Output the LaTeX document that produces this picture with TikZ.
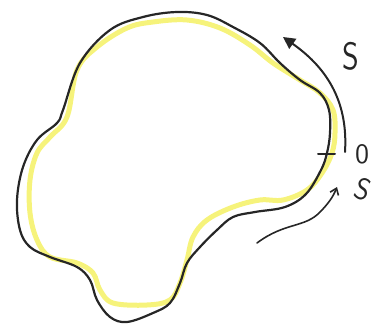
\documentclass[tikz,border=0pt]{standalone}
\usetikzlibrary{arrows.meta}
\usepackage{graphicx}
\definecolor{hl}{HTML}{F4F05A}
\begin{document}
\begin{tikzpicture}[x=1pt,y=-1pt,
  outline/.style={line width=2.2pt, black!85, line join=round},
  marker/.style={line width=5pt, hl, line join=round, opacity=0.8},
  arr/.style={line width=2pt, black!85, line cap=round},
  lab/.style={font=\sffamily\fontsize{10}{10}\selectfont, inner sep=0pt, text=black!85}]
\useasboundingbox (0,0) rectangle (378,324);
% yellow highlight
\draw[marker] plot[smooth cycle, tension=0.6] coordinates {
 (77,70) (97,47) (127,28) (153,22) (187,20) (220,28) (250,45) (273,63)
 (300,80) (320,93) (333,110) (335,133) (332,153) (322,173) (307,190)
 (283,200) (260,200) (233,207) (207,220) (193,237) (187,260) (180,283)
 (170,300) (147,305) (113,303) (100,290) (93,273) (77,263) (50,257)
 (37,240) (30,213) (30,180) (37,153) (50,137) (67,117)};
% black outline
\draw[outline] plot[smooth cycle, tension=0.6] coordinates {
 (63,110) (80,63) (110,30) (143,17) (177,12) (207,15) (233,27) (260,43)
 (280,63) (300,80) (320,93) (329,110) (330,133) (327,153) (321,170)
 (306,194) (285,207) (255,212) (233,217) (217,230) (200,247) (187,263)
 (180,283) (170,303) (153,313) (127,322) (110,317) (97,300) (90,280)
 (77,267) (50,257) (30,247) (20,230) (17,200) (23,167) (37,140) (57,123)};
% start tick
\coordinate (t1) at (318,154);
\coordinate (t2) at (335,154);
\draw[arr] (t1) -- (t2);
% S arrow
\coordinate (sa) at (345,152);
\coordinate (sb) at (283,37);
\draw[arr, -{Triangle[length=12pt,width=12pt]}] (sa) .. controls (348,105) and (330,70) .. (sb);
% lower arrow
\coordinate (la) at (257,243);
\coordinate (lb) at (337,187);
\draw[arr, line width=1.6pt, -{Straight Barb[length=6pt,width=9pt]}] (la) .. controls (285,222) and (305,228) .. (320,212) .. controls (328,204) and (333,197) .. (lb);
% labels
\node[lab] (S) at (351,56) {\scalebox{3.0}[3.8]{S}};
\node[lab] (zero) at (362,154) {\scalebox{2.8}{0}};
\node[lab, rotate=-20] (s) at (363,189) {\scalebox{2.7}[3.0]{S}};
\end{tikzpicture}
\end{document}
